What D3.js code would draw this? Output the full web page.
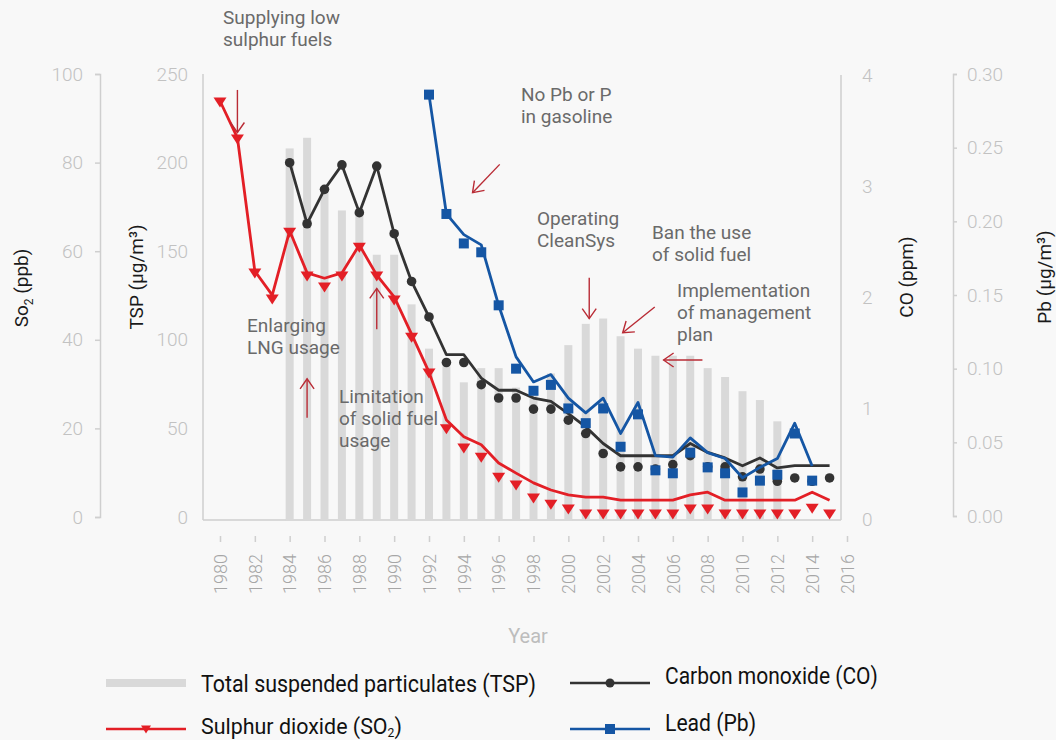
<!DOCTYPE html>
<meta charset="utf-8">
<script src="https://d3js.org/d3.v7.min.js"></script>
<style>
    body {margin: 0; background: #f8f8f8;}
    svg text {font-family: Roboto, 'Noto Sans', sans-serif;}
</style>
<body>
<svg width="1056" height="740"></svg>
<script>
    // yearly values, null where a series has no data
    const years   = [1980,1981,1982,1983,1984,1985,1986,1987,1988,1989,1990,1991,1992,1993,1994,1995,1996,1997,
                     1998,1999,2000,2001,2002,2003,2004,2005,2006,2007,2008,2009,2010,2011,2012,2013,2014,2015];
    const tsp     = [null,null,null,null,208,214,185,173,172,148,148,120,95,85,76,84,84,73,
                     72,81,97,109,112,102,95,91,91,91,84,79,71,66,54,null,null,null];
    const so2Line = [93.9,85.6,55.5,50.1,64.6,55.1,53.9,55.1,61.4,54.6,49.7,41.3,32.7,21.9,18.1,16.3,12.2,9.9,
                     7.7,6.1,5.0,4.5,4.5,3.8,3.8,3.8,3.8,5.0,5.6,3.8,3.8,3.8,3.8,3.8,5.6,3.8];
    const so2Pts  = [93.7,85.3,55.1,49.2,64.3,54.4,51.9,54.4,60.9,54.4,49.0,40.6,32.5,19.9,15.6,13.5,9.0,7.2,
                     4.3,2.9,1.8,0.7,0.7,0.7,0.7,0.7,0.7,1.8,1.8,0.7,0.7,0.7,0.7,0.7,2.0,0.7];
    const coLine  = [null,null,null,null,3.21,2.66,2.97,3.19,2.76,3.18,2.57,2.14,1.82,1.48,1.48,1.27,1.16,1.16,
                     1.09,1.06,0.95,0.83,0.68,0.57,0.57,0.57,0.57,0.68,0.60,0.55,0.48,0.55,0.46,0.48,0.48,0.48];
    const coPts   = [null,null,null,null,3.21,2.66,2.97,3.19,2.76,3.18,2.57,2.14,1.82,1.41,1.41,1.21,1.09,1.09,
                     0.99,0.99,0.89,0.77,0.59,0.47,0.47,0.45,0.49,0.57,0.47,0.47,0.38,0.45,0.34,0.37,0.34,0.37];
    const pbLine  = [null,null,null,null,null,null,null,null,null,null,null,null,0.286,0.205,0.191,0.184,0.143,0.108,
                     0.091,0.096,0.080,0.070,0.080,0.056,0.077,0.041,0.040,0.053,0.043,0.039,0.026,0.033,0.039,0.063,0.034,null];
    const pbPts   = [null,null,null,null,null,null,null,null,null,null,null,null,0.286,0.205,0.185,0.179,0.143,0.100,
                     0.085,0.089,0.073,0.063,0.073,0.047,0.069,0.031,0.029,0.043,0.033,0.029,0.016,0.024,0.028,0.056,0.024,null];

    const yearTicks = [1980,1982,1984,1986,1988,1990,1992,1994,1996,1998,2000,2002,2004,2006,2008,2010,2012,2014,2016];
    const so2Ticks  = [0,20,40,60,80,100];
    const tspTicks  = [0,50,100,150,200,250];
    const coTicks   = [0,1,2,3,4];
    const pbTicks   = [0,0.05,0.10,0.15,0.20,0.25,0.30];

    // notes; arrows are placed in year / TSP units
    const notes = [
        {lines:["Supplying low","sulphur fuels"], x:223, y:24},
        {lines:["No Pb or P","in gasoline"], x:521, y:101},
        {lines:["Operating","CleanSys"], x:537, y:225},
        {lines:["Ban the use","of solid fuel"], x:652, y:239},
        {lines:["Implementation","of management","plan"], x:677, y:297},
        {lines:["Enlarging","LNG usage"], x:247, y:332},
        {lines:["Limitation","of solid fuel","usage"], x:339, y:403}
    ];
    const arrows = [
        {from:[1981, 241], to:[1981, 217]},
        {from:[1985, 56], to:[1985, 78]},
        {from:[1989, 106], to:[1989, 129]},
        {from:[1996.06, 199], to:[1994.5, 183]},
        {from:[2001.2, 135], to:[2001.2, 112]},
        {from:[2004.96, 118.5], to:[2003.12, 104]},
        {from:[2007.7, 88.6], to:[2005.47, 88.6]}
    ];

    const RED = "#e31f26", DARK = "#333333", BLUE = "#1556a4", BAR = "#d9d9d9";
    const AXIS = "#cfcfcf", TICKTXT = "#c2c2c2";
    const baseY = 520;

    var svg = d3.select("svg");
    svg.append("rect").attr("width", 1056).attr("height", 740).attr("fill", "#f8f8f8");

    var x = d3.scaleLinear().domain([1980, 2016]).range([220, 847]),
        ySO2 = d3.scaleLinear().domain([0, 100]).range([517, 74]),
        yTSP = d3.scaleLinear().domain([0, 250]).range([517, 74]),
        yCO = d3.scaleLinear().domain([0, 4]).range([519, 75]),
        yPb = d3.scaleLinear().domain([0, 0.3]).range([516, 74]);

    function rows(vals){ return years.map(function(yr, i){ return {year: yr, v: vals[i]}; }).filter(function(d){ return d.v != null; }); }

    function styleAxis(g, size){
        g.attr("font-family", null).attr("font-size", null);
        g.selectAll("path, line").attr("stroke", AXIS).attr("stroke-width", 1.5);
        g.selectAll("text").attr("fill", TICKTXT).style("font-size", size + "px").style("font-weight", 300);
    }

    // left axes
    var gSO2 = svg.append("g").attr("transform", "translate(100,0)")
        .call(d3.axisLeft(ySO2).tickValues(so2Ticks).tickSize(5).tickSizeOuter(5).tickPadding(12));
    styleAxis(gSO2, 19);

    var gTSP = svg.append("g").attr("transform", "translate(203,0)")
        .call(d3.axisLeft(yTSP).tickValues(tspTicks).tickSize(0).tickPadding(15));
    gTSP.select(".domain").remove();
    styleAxis(gTSP, 19);
    svg.append("line").attr("x1", 203).attr("x2", 203).attr("y1", yTSP(250)).attr("y2", baseY)
        .attr("stroke", AXIS).attr("stroke-width", 1.5);

    // right axes
    var gCO = svg.append("g").attr("transform", "translate(841,0)")
        .call(d3.axisRight(yCO).tickValues(coTicks).tickSize(0).tickPadding(21).tickFormat(d3.format("d")));
    gCO.select(".domain").remove();
    styleAxis(gCO, 19);
    svg.append("line").attr("x1", 841).attr("x2", 841).attr("y1", yCO(4)).attr("y2", baseY)
        .attr("stroke", AXIS).attr("stroke-width", 1.5);

    var gPb = svg.append("g").attr("transform", "translate(953,0)")
        .call(d3.axisRight(yPb).tickValues(pbTicks).tickSize(4).tickSizeOuter(4).tickPadding(10).tickFormat(d3.format(".2f")));
    styleAxis(gPb, 19);

    // baseline and year axis
    svg.append("line").attr("x1", 203).attr("x2", 841).attr("y1", baseY).attr("y2", baseY)
        .attr("stroke", AXIS).attr("stroke-width", 1.5);
    var gX = svg.append("g").attr("transform", "translate(0,536)")
        .call(d3.axisBottom(x).tickValues(yearTicks).tickFormat(d3.format("d")).tickSize(6));
    gX.select(".domain").remove();
    styleAxis(gX, 18);
    gX.selectAll("text").attr("fill", "#a6a6a6")
        .attr("x", 0).attr("y", 0).attr("dy", "0.35em")
        .attr("transform", "translate(0,58) rotate(-90)")
        .style("text-anchor", "start");

    svg.append("text").attr("x", 528).attr("y", 643).attr("text-anchor", "middle")
        .style("font-size", "20px").attr("fill", "#bdbdbd").text("Year");

    // axis titles
    function vTitle(xp, yp){
        return svg.append("text").attr("transform", "translate(" + xp + "," + yp + ") rotate(-90)")
            .attr("text-anchor", "middle").style("font-size", "19px").attr("fill", "#1a1a1a");
    }
    var t1 = vTitle(28, 288);
    t1.append("tspan").text("So");
    t1.append("tspan").attr("dy", 5).style("font-size", "12px").text("2");
    t1.append("tspan").attr("dy", -5).text(" (ppb)");
    vTitle(143, 277).text("TSP (µg/m³)");
    vTitle(913, 277).text("CO (ppm)");
    vTitle(1051, 277).text("Pb (µg/m³)");

    // TSP bars
    svg.append("g").selectAll("rect").data(rows(tsp)).enter().append("rect")
        .attr("x", function(d){ return x(d.year) - 4; })
        .attr("width", 8)
        .attr("y", function(d){ return yTSP(d.v); })
        .attr("height", function(d){ return baseY + 1 - yTSP(d.v); })
        .attr("fill", BAR);

    var tri = "M-6.5,-4.5L6.5,-4.5L0,5.5Z";

    function drawLine(vals, y, color){
        svg.append("path").datum(rows(vals))
            .attr("fill", "none").attr("stroke", color).attr("stroke-width", 2.8)
            .attr("stroke-linejoin", "round")
            .attr("d", d3.line().x(function(d){ return x(d.year); }).y(function(d){ return y(d.v); }));
    }

    // SO2
    drawLine(so2Line, ySO2, RED);
    svg.append("g").selectAll("path").data(rows(so2Pts)).enter().append("path")
        .attr("d", tri).attr("fill", RED)
        .attr("transform", function(d){ return "translate(" + x(d.year) + "," + ySO2(d.v) + ")"; });

    // CO
    drawLine(coLine, yCO, DARK);
    svg.append("g").selectAll("circle").data(rows(coPts)).enter().append("circle")
        .attr("cx", function(d){ return x(d.year); })
        .attr("cy", function(d){ return yCO(d.v); })
        .attr("r", 4.8).attr("fill", DARK);

    // Pb
    drawLine(pbLine, yPb, BLUE);
    svg.append("g").selectAll("rect").data(rows(pbPts)).enter().append("rect")
        .attr("x", function(d){ return x(d.year) - 5; })
        .attr("y", function(d){ return yPb(d.v) - 5; })
        .attr("width", 10).attr("height", 10).attr("fill", BLUE);

    // notes and arrows
    var ARROW = "#b92b35";
    svg.append("defs").append("marker")
        .attr("id", "head").attr("viewBox", "-12 -9 14 18")
        .attr("refX", 0).attr("refY", 0)
        .attr("markerUnits", "userSpaceOnUse")
        .attr("markerWidth", 14).attr("markerHeight", 18)
        .attr("orient", "auto")
        .append("path").attr("d", "M-10,-7L0,0L-10,7")
        .attr("fill", "none").attr("stroke", ARROW).attr("stroke-width", 1.4);

    svg.append("g").selectAll("line").data(arrows).enter().append("line")
        .attr("x1", function(d){ return x(d.from[0]); })
        .attr("y1", function(d){ return yTSP(d.from[1]); })
        .attr("x2", function(d){ return x(d.to[0]); })
        .attr("y2", function(d){ return yTSP(d.to[1]); })
        .attr("stroke", ARROW).attr("stroke-width", 1.4)
        .attr("marker-end", "url(#head)");

    notes.forEach(function(n){
        var t = svg.append("text").attr("x", n.x).attr("y", n.y)
            .style("font-size", "19px").attr("fill", "#6a6a6a");
        n.lines.forEach(function(l, i){
            t.append("tspan").attr("x", n.x).attr("dy", i == 0 ? 0 : 22).text(l);
        });
    });

    // legend
    var lg = svg.append("g");
    lg.append("rect").attr("x", 106).attr("y", 679).attr("width", 80).attr("height", 8).attr("fill", BAR);
    lg.append("line").attr("x1", 106).attr("x2", 186).attr("y1", 729).attr("y2", 729).attr("stroke", RED).attr("stroke-width", 2.5);
    lg.append("path").attr("d", "M-5,-3.5L5,-3.5L0,4.5Z").attr("fill", RED).attr("transform", "translate(146,729)");
    lg.append("line").attr("x1", 570).attr("x2", 650).attr("y1", 683).attr("y2", 683).attr("stroke", DARK).attr("stroke-width", 2.5);
    lg.append("circle").attr("cx", 610).attr("cy", 683).attr("r", 4.5).attr("fill", DARK);
    lg.append("line").attr("x1", 570).attr("x2", 650).attr("y1", 729).attr("y2", 729).attr("stroke", BLUE).attr("stroke-width", 2.5);
    lg.append("rect").attr("x", 605).attr("y", 724).attr("width", 10).attr("height", 10).attr("fill", BLUE);

    function legText(xp, yp, w){
        var t = lg.append("text").style("font-size", "23px").attr("fill", "#111");
        t.fit = function(){
            var n = t.node().getComputedTextLength();
            t.attr("transform", "translate(" + xp + "," + yp + ") scale(" + (w / n) + ",1)");
        };
        return t;
    }
    var l1 = legText(201, 692, 335); l1.text("Total suspended particulates (TSP)"); l1.fit();
    var l2 = legText(201, 734, 201);
    l2.append("tspan").text("Sulphur dioxide (SO");
    l2.append("tspan").attr("dy", 3).style("font-size", "13px").text("2");
    l2.append("tspan").attr("dy", -3).text(")");
    l2.fit();
    var l3 = legText(665, 684, 213); l3.text("Carbon monoxide (CO)"); l3.fit();
    var l4 = legText(665, 731, 91); l4.text("Lead (Pb)"); l4.fit();
</script>
</body>
